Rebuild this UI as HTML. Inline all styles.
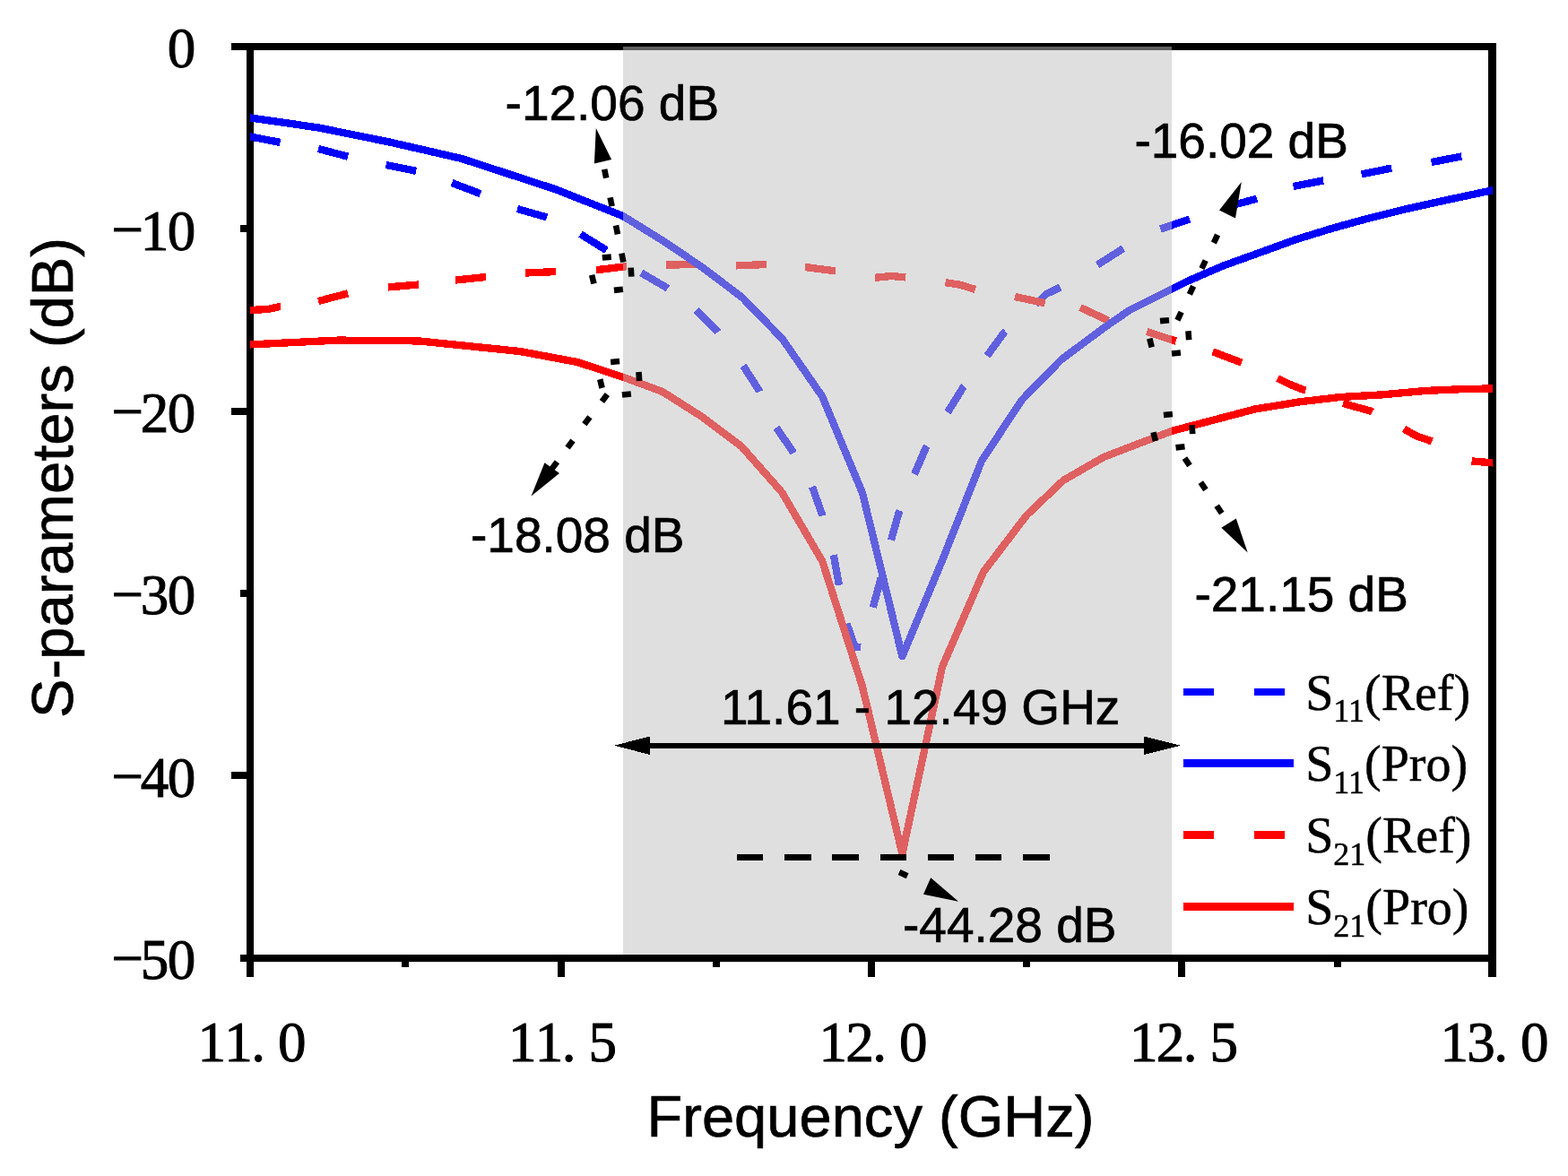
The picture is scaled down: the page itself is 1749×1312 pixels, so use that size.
<!DOCTYPE html>
<html lang="en"><head><meta charset="utf-8"><title>S-parameters versus frequency</title>
<style>html,body{margin:0;padding:0;background:#fff;overflow:hidden}svg{display:block}.ar{font-family:"Liberation Sans",sans-serif;fill:#000;stroke:#000;stroke-width:0.7px}.tk{font-family:"Liberation Serif",serif;fill:#000;stroke:#000;stroke-width:1px}.lg{font-family:"Liberation Serif",serif;fill:#000;stroke:#000;stroke-width:0.5px}</style></head><body>
<svg width="1749" height="1312" viewBox="0 0 1749 1312">
<rect x="0" y="0" width="1749" height="1312" fill="#fff"/>
<g fill="#000" shape-rendering="crispEdges">
<rect x="258" y="48" width="1411" height="8"/>
<rect x="268" y="1065" width="1401" height="8"/>
<rect x="275" y="48" width="8" height="1042"/>
<rect x="1660" y="48" width="8.5" height="1042"/>
<rect x="268" y="251" width="8" height="8"/>
<rect x="258" y="455" width="18" height="8"/>
<rect x="268" y="658" width="8" height="8"/>
<rect x="258" y="861" width="18" height="8"/>
<rect x="448" y="1069" width="8" height="10"/>
<rect x="622" y="1069" width="8" height="21"/>
<rect x="795" y="1069" width="8" height="10"/>
<rect x="968" y="1069" width="8" height="21"/>
<rect x="1141" y="1069" width="8" height="10"/>
<rect x="1314" y="1069" width="8" height="21"/>
<rect x="1488" y="1069" width="8" height="10"/>
</g>
<clipPath id="plotclip"><rect x="279" y="52" width="1386" height="1013"/></clipPath>
<g fill="none" stroke-width="8.33" stroke-linejoin="round" shape-rendering="crispEdges" clip-path="url(#plotclip)">
<g stroke="#0000ff">
<polyline points="276.0,151.8 279.0,152.4 312.6,158.9"/>
<polyline points="355.0,166.0 388.2,174.7"/>
<polyline points="430.6,184.0 464.2,190.8"/>
<polyline points="504.0,204.0 536.0,216.2"/>
<polyline points="577.0,233.0 610.0,242.4"/>
<polyline points="647.5,261.2 676.3,279.1 676.6,279.3"/>
<polyline points="715.2,304.4 744.0,321.2 744.8,321.8"/>
<polyline points="776.6,346.0 800.0,369.6 800.6,370.5"/>
<polyline points="829.0,408.0 847.0,436.0 847.4,436.9"/>
<polyline points="866.0,477.0 883.0,502.0 885.0,505.5"/>
<polyline points="906.0,543.0 917.0,574.0 917.4,575.4"/>
<polyline points="929.8,619.1 935.7,651.6 935.9,652.8"/>
<polyline points="944.4,695.7 953.6,721.6 960.4,721.9"/>
<polyline points="973.7,677.7 982.4,645.9 982.7,644.6"/>
<polyline points="994.0,602.6 1002.0,574.0 1003.7,569.7"/>
<polyline points="1020.0,529.0 1033.0,499.0 1033.8,497.6"/>
<polyline points="1057.0,460.0 1075.0,431.0 1075.1,430.9"/>
<polyline points="1101.0,397.0 1120.0,371.0 1121.6,369.6"/>
<polyline points="1155.0,340.0 1167.0,328.0 1182.7,320.6"/>
<polyline points="1224.0,295.6 1253.0,277.2"/>
<polyline points="1294.4,255.6 1326.9,244.5"/>
<polyline points="1369.0,231.1 1380.0,227.6 1401.0,222.0 1402.0,221.7"/>
<polyline points="1442.6,208.0 1476.0,201.4 1476.3,201.4"/>
<polyline points="1518.6,194.4 1552.2,187.6"/>
<polyline points="1596.6,181.0 1630.3,174.5"/>
</g><g stroke="#ff0000">
<polyline points="276.0,346.1 279.0,346.0 299.0,345.0 312.0,342.0 312.9,341.9"/>
<polyline points="355.0,336.0 388.2,327.3"/>
<polyline points="433.0,320.4 467.0,317.5 467.2,317.5"/>
<polyline points="508.0,312.5 542.1,309.0"/>
<polyline points="586.0,304.5 620.3,303.1"/>
<polyline points="665.1,301.2 698.7,297.2 699.2,297.2"/>
<polyline points="743.0,295.6 777.0,295.0 777.3,295.0"/>
<polyline points="821.0,296.4 855.3,295.0"/>
<polyline points="898.0,298.0 932.0,302.3"/>
<polyline points="976.0,309.8 994.5,308.0 1010.2,309.4"/>
<polyline points="1054.5,315.2 1071.3,317.8 1087.8,322.9"/>
<polyline points="1132.0,331.0 1165.0,338.0 1165.6,338.1"/>
<polyline points="1205.0,343.0 1236.1,357.6"/>
<polyline points="1279.2,370.0 1311.8,380.6"/>
<polyline points="1352.8,392.4 1384.9,404.6"/>
<polyline points="1425.0,422.0 1439.0,429.0 1456.0,435.6 1456.4,435.7"/>
<polyline points="1498.0,450.0 1529.0,458.6 1530.9,459.6"/>
<polyline points="1566.0,478.4 1579.0,486.0 1597.2,492.4"/>
<polyline points="1641.6,514.4 1665.0,516.4 1673.0,517.1"/>
</g>
<polyline stroke="#0000ff" points="271.0,130.2 279.0,131.4 355.0,142.4 435.0,158.6 515.0,177.0 620.0,211.3 695.2,241.2 738.8,268.2 783.4,298.2 828.0,332.0 872.6,378.0 917.0,442.0 962.0,550.0 1006.4,732.3 1050.7,626.0 1095.0,514.0 1140.0,446.0 1184.0,401.0 1231.0,366.0 1260.0,346.0 1307.0,322.5 1325.0,313.5 1365.0,296.3 1400.0,283.7 1445.0,267.4 1485.0,255.0 1525.0,244.0 1565.0,234.0 1605.0,225.0 1665.0,212.2 1673.0,210.5"/>
<polyline stroke="#ff0000" points="271.0,384.8 279.0,384.4 377.0,379.6 467.0,380.4 580.0,392.0 644.0,404.0 695.2,420.8 739.0,437.0 783.0,465.0 827.0,498.0 872.0,549.0 917.2,626.0 961.8,765.5 1006.4,952.5 1051.0,744.0 1097.0,638.0 1145.0,575.0 1186.0,536.0 1231.0,510.0 1260.0,498.8 1307.0,480.9 1400.0,456.4 1450.0,448.3 1495.0,443.0 1543.0,440.3 1589.0,436.0 1630.0,434.2 1665.0,433.4 1673.0,433.2"/>
</g>
<rect x="695" y="52" width="612" height="1013" fill="#c0c0c0" fill-opacity="0.5" shape-rendering="crispEdges"/>
<g class="ar" font-size="55">
<text x="563.6" y="134">-12.06 dB</text>
<text x="1265.4" y="175.6">-16.02 dB</text>
<text x="525" y="616">-18.08 dB</text>
<text x="1332.4" y="681.6">-21.15 dB</text>
<text x="804" y="808.2">11.61 - 12.49 GHz</text>
<text x="1007" y="1051">-44.28 dB</text>
</g>
<g fill="#000" stroke="none" shape-rendering="crispEdges">
<rect x="720" y="829" width="560" height="6"/>
<polygon points="685,831.7 725,821.5 725,842"/>
<polygon points="1317,831.7 1276,821.5 1276,842"/>
</g>
<line x1="822" y1="956.3" x2="1171" y2="956.3" stroke="#000" stroke-width="6.9" stroke-dasharray="29.3 23.9" stroke-dashoffset="-0.0" shape-rendering="crispEdges"/>
<g fill="#000" stroke="none">
<rect x="-5" y="-3.3" width="10" height="6.6" transform="translate(675.2,193.7) rotate(78.4)"/>
<rect x="-5" y="-3.3" width="10" height="6.6" transform="translate(681.6,225.2) rotate(78.4)"/>
<rect x="-5" y="-3.3" width="10" height="6.6" transform="translate(688.0,256.4) rotate(78.4)"/>
<rect x="-5" y="-3.3" width="10" height="6.6" transform="translate(694.4,287.6) rotate(78.4)"/>
<rect x="-5" y="-3.3" width="10" height="6.6" transform="translate(676.8,287.1) rotate(174.8)"/>
<rect x="-5" y="-3.3" width="10" height="6.6" transform="translate(704.0,303.6) rotate(86.4)"/>
<rect x="-5" y="-3.3" width="10" height="6.6" transform="translate(689.9,323.3) rotate(173.7)"/>
<rect x="-5" y="-3.3" width="10" height="6.6" transform="translate(661.3,311.6) rotate(76.4)"/>
<rect x="-5" y="-3.3" width="10" height="6.6" transform="translate(686.1,403.5) rotate(175.1)"/>
<rect x="-5" y="-3.3" width="10" height="6.6" transform="translate(712.8,420.0) rotate(86.2)"/>
<rect x="-5" y="-3.3" width="10" height="6.6" transform="translate(698.9,440.0) rotate(173.6)"/>
<rect x="-5" y="-3.3" width="10" height="6.6" transform="translate(670.4,428.0) rotate(76.4)"/>
<rect x="-5" y="-3.3" width="10" height="6.6" transform="translate(674.4,444.0) rotate(126.7)"/>
<rect x="-5" y="-3.3" width="10" height="6.6" transform="translate(654.9,469.3) rotate(126.7)"/>
<rect x="-5" y="-3.3" width="10" height="6.6" transform="translate(636.0,495.5) rotate(126.7)"/>
<rect x="-5" y="-3.3" width="10" height="6.6" transform="translate(618.4,519.2) rotate(126.7)"/>
<rect x="-5" y="-3.3" width="10" height="6.6" transform="translate(1356.0,266.5) rotate(115.2)"/>
<rect x="-5" y="-3.3" width="10" height="6.6" transform="translate(1342.6,295.1) rotate(115.2)"/>
<rect x="-5" y="-3.3" width="10" height="6.6" transform="translate(1329.0,323.8) rotate(115.2)"/>
<rect x="-5" y="-3.3" width="10" height="6.6" transform="translate(1315.5,352.7) rotate(115.2)"/>
<rect x="-5" y="-3.3" width="10" height="6.6" transform="translate(1299.0,357.7) rotate(175.1)"/>
<rect x="-5" y="-3.3" width="10" height="6.6" transform="translate(1325.8,374.3) rotate(86.2)"/>
<rect x="-5" y="-3.3" width="10" height="6.6" transform="translate(1312.0,394.0) rotate(173.5)"/>
<rect x="-5" y="-3.3" width="10" height="6.6" transform="translate(1283.5,382.5) rotate(76.0)"/>
<rect x="-5" y="-3.3" width="10" height="6.6" transform="translate(1302.9,462.5) rotate(174.8)"/>
<rect x="-5" y="-3.3" width="10" height="6.6" transform="translate(1329.9,479.1) rotate(86.4)"/>
<rect x="-5" y="-3.3" width="10" height="6.6" transform="translate(1316.5,498.8) rotate(173.2)"/>
<rect x="-5" y="-3.3" width="10" height="6.6" transform="translate(1287.7,487.1) rotate(76.2)"/>
<rect x="-5" y="-3.3" width="10" height="6.6" transform="translate(1324.2,515.3) rotate(56.0)"/>
<rect x="-5" y="-3.3" width="10" height="6.6" transform="translate(1342.1,542.3) rotate(56.0)"/>
<rect x="-5" y="-3.3" width="10" height="6.6" transform="translate(1360.0,568.4) rotate(56.0)"/>
<rect x="-5" y="-3.3" width="10" height="6.6" transform="translate(1007.6,975.2) rotate(25.0)"/>
<polygon points="664.8,143.1 662.9,182.5 682.1,178"/>
<polygon points="592.5,553.6 607.5,516.3 624,528"/>
<polygon points="1384.8,203.1 1360,234.5 1378,243.6"/>
<polygon points="1391.7,616.6 1362.4,588.7 1378.8,578.4"/>
<polygon points="1069.1,1005.7 1038.2,979.2 1030,997.7"/>
</g>
<g fill="none" stroke-width="8.33" shape-rendering="crispEdges">
<path stroke="#0000ff" d="M1320,772.0h34M1398.5,772.0h34.5"/>
<path stroke="#0000ff" d="M1320,851.5h123"/>
<path stroke="#ff0000" d="M1320,931.5h34M1398.5,931.5h34.5"/>
<path stroke="#ff0000" d="M1320,1011.5h123"/>
</g>
<g class="lg" font-size="56">
<text x="1456.2" y="791.5">S<tspan font-size="36" dy="13.5">11</tspan><tspan dy="-13.5">(Ref)</tspan></text>
<text x="1456.2" y="871.0">S<tspan font-size="36" dy="13.5">11</tspan><tspan dy="-13.5">(Pro)</tspan></text>
<text x="1456.2" y="951.0">S<tspan font-size="36" dy="13.5">21</tspan><tspan dy="-13.5">(Ref)</tspan></text>
<text x="1456.2" y="1031.0">S<tspan font-size="36" dy="13.5">21</tspan><tspan dy="-13.5">(Pro)</tspan></text>
</g>
<g class="tk" font-size="63">
<text text-anchor="middle" x="236.3 266.1 288.0 325.7" y="1184">11.0</text>
<text text-anchor="middle" x="582.8 612.6 634.5 672.2" y="1184">11.5</text>
<text text-anchor="middle" x="929.3 959.1 981.0 1018.7" y="1184">12.0</text>
<text text-anchor="middle" x="1275.8 1305.6 1327.5 1365.2" y="1184">12.5</text>
<text text-anchor="middle" x="1622.3 1652.1 1674.0 1711.7" y="1184">13.0</text>
<text text-anchor="middle" x="202.5" y="75.2">0</text>
<text text-anchor="middle" x="142.2 172.5 202.5" y="278.6" dy="-1.8 1.8 0">−10</text>
<text text-anchor="middle" x="142.2 172.5 202.5" y="481.9" dy="-1.8 1.8 0">−20</text>
<text text-anchor="middle" x="142.2 172.5 202.5" y="685.3" dy="-1.8 1.8 0">−30</text>
<text text-anchor="middle" x="142.2 172.5 202.5" y="888.6" dy="-1.8 1.8 0">−40</text>
<text text-anchor="middle" x="142.2 172.5 202.5" y="1092.0" dy="-1.8 1.8 0">−50</text>
</g>
<g class="ar" font-size="65">
<text x="721.5" y="1267.5" textLength="499" lengthAdjust="spacingAndGlyphs">Frequency (GHz)</text>
<text transform="translate(81.4,801) rotate(-90)" textLength="536" lengthAdjust="spacingAndGlyphs">S-parameters (dB)</text>
</g>
</svg></body></html>
